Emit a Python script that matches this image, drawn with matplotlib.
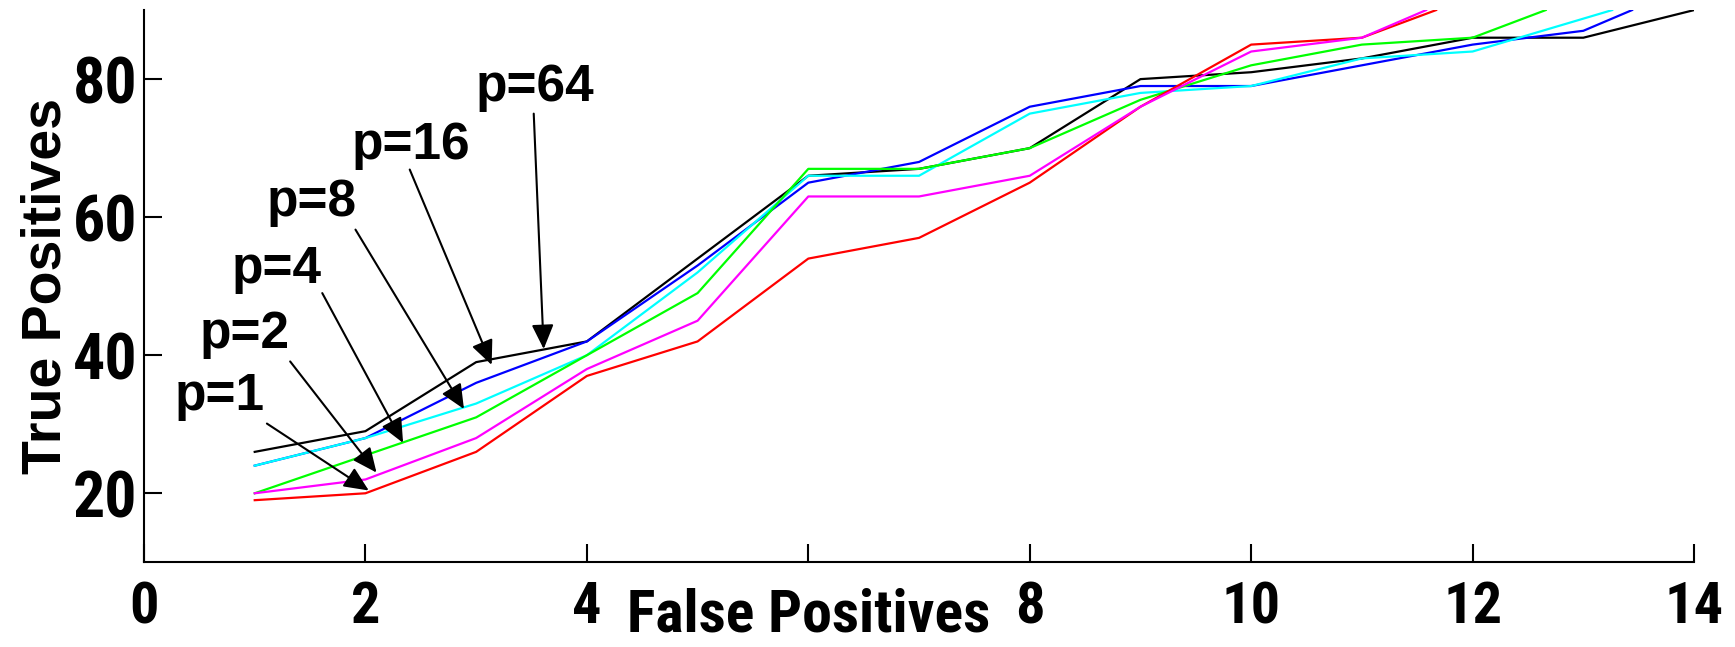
import matplotlib
matplotlib.use('Agg')
import matplotlib.pyplot as plt

# ---- data ----
fp_p1 = [1, 2, 3, 4, 5, 6, 7, 8, 9, 10, 11, 11.67]
tp_p1 = [19, 20, 26, 37, 42, 54, 57, 65, 76, 85, 86, 90]
fp_p2 = [1, 2, 3, 4, 5, 6, 7, 8, 9, 10, 11, 11.58]
tp_p2 = [20, 22, 28, 38, 45, 63, 63, 66, 76, 84, 86, 90]
fp_p4 = [1, 2, 3, 4, 5, 6, 7, 8, 9, 10, 11, 12, 12.66]
tp_p4 = [20, 25.5, 31, 40, 49, 67, 67, 70, 77, 82, 85, 86, 90]
fp_p8 = [1, 2, 3, 4, 5, 6, 7, 8, 9, 10, 11, 12, 13.26]
tp_p8 = [24, 28, 33, 40, 52, 66, 66, 75, 78, 79, 83, 84, 90]
fp_p16 = [1, 2, 3, 4, 5, 6, 7, 8, 9, 10, 11, 12, 13, 13.44]
tp_p16 = [24, 28, 36, 42, 53, 65, 68, 76, 79, 79, 82, 85, 87, 90]
fp_p64 = [1, 2, 3, 4, 5, 6, 7, 8, 9, 10, 11, 12, 13, 14]
tp_p64 = [26, 29, 39, 42, 54, 66, 67, 70, 80, 81, 83, 86, 86, 90]

xticks = [0, 2, 4, 6, 8, 10, 12, 14]
# the "6" label is hidden under the axis title in the reference
xtick_labels = ['0', '2', '4', '', '8', '10', '12', '14']
yticks = [20, 40, 60, 80]
ytick_labels = ['20', '40', '60', '80']

# annotation labels: text anchor, arrow tail, arrow head (data coords)
annot_labels = ['p=1', 'p=2', 'p=4', 'p=8', 'p=16', 'p=64']
annot_text = [(0.68, 32.1), (0.91, 41.0), (1.20, 50.5), (1.51, 60.1), (2.41, 68.5), (3.53, 76.8)]
annot_tail = [(1.11, 30.1), (1.32, 39.1), (1.61, 49.0), (1.91, 58.2), (2.40, 66.9), (3.52, 75.0)]
annot_head = [(2.03, 20.4), (2.10, 23.0), (2.34, 27.3), (2.89, 32.2), (3.14, 38.6), (3.61, 40.9)]

NARROW = ['Roboto Condensed', 'Archivo Narrow', 'Fira Sans Condensed', 'Liberation Sans', 'DejaVu Sans']
REGULAR = ['Liberation Sans', 'DejaVu Sans']

fig = plt.figure(figsize=(17.35, 6.47), dpi=100)
ax = fig.add_axes([0.083, 0.1309, 0.8934, 0.8535])

# drawing order as seen in the overlaps
series = [
    (fp_p64, tp_p64, 'black'),
    (fp_p16, tp_p16, '#0000ff'),
    (fp_p8, tp_p8, '#00ffff'),
    (fp_p4, tp_p4, '#00ff00'),
    (fp_p1, tp_p1, '#ff0000'),
    (fp_p2, tp_p2, '#ff00ff'),
]
for xs, ys, c in series:
    ax.plot(xs, ys, color=c, linewidth=1.6)

for lab, txy, tail, head in zip(annot_labels, annot_text, annot_tail, annot_head):
    ax.annotate('', xy=head, xytext=tail,
                arrowprops=dict(arrowstyle='-|>,head_length=1.0,head_width=0.45',
                                mutation_scale=15, color='black', lw=1.5,
                                shrinkA=0, shrinkB=0))
    ax.text(txy[0], txy[1], lab, ha='center', va='baseline', fontsize=37,
            fontweight='bold', family=REGULAR)

ax.set_xlim(0, 14)
ax.set_ylim(10, 90)
ax.set_xticks(xticks)
ax.set_xticklabels(xtick_labels, fontsize=42, fontweight='bold', family=NARROW)
ax.set_yticks(yticks)
ax.set_yticklabels(ytick_labels, fontsize=46, fontweight='bold', family=NARROW)
ax.tick_params(axis='x', direction='in', length=13, width=1.5, pad=13)
ax.tick_params(axis='y', direction='in', length=13, width=1.5, pad=5)

for s in ['top', 'right']:
    ax.spines[s].set_visible(False)
for s in ['left', 'bottom']:
    ax.spines[s].set_linewidth(1.5)

ax.set_xlabel('False Positives', fontsize=43, fontweight='bold', family=NARROW)
ax.xaxis.set_label_coords(6 / 14, -0.045)
ax.set_ylabel('True Positives', fontsize=40, fontweight='bold', family=REGULAR)
ax.yaxis.set_label_coords(-0.046, 0.5)

fig.savefig('out.png', dpi=100)
plt.close(fig)
